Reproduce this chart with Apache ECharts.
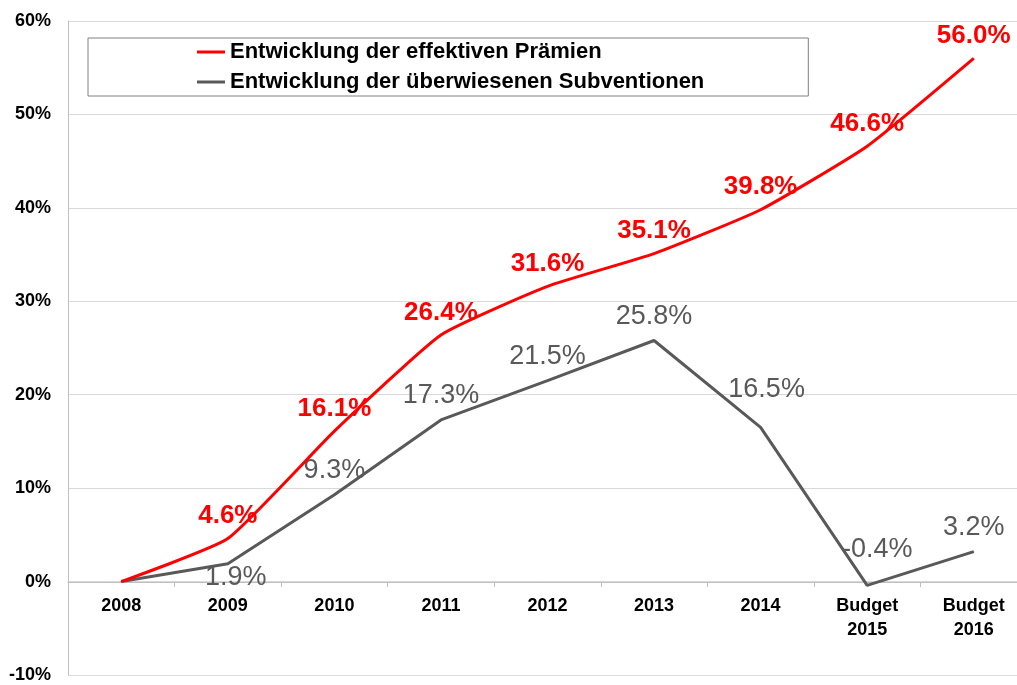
<!DOCTYPE html>
<html>
<head>
<meta charset="utf-8">
<script src="https://cdn.jsdelivr.net/npm/echarts@6/dist/echarts.min.js"></script>
<style>
    html, body {margin: 0; padding: 0; background: #fff;}
    #chart {width: 1017px; height: 685px;}
</style>
</head>
<body>
<div id="chart"></div>
<script>
// data
const categories = ['2008', '2009', '2010', '2011', '2012', '2013', '2014', 'Budget\n2015', 'Budget\n2016'];
const praemien = [0, 4.6, 16.1, 26.4, 31.6, 35.1, 39.8, 46.6, 56.0];
const subventionen = [0, 1.9, 9.3, 17.3, 21.5, 25.8, 16.5, -0.4, 3.2];
const seriesNames = ['Entwicklung der effektiven Prämien', 'Entwicklung der überwiesenen Subventionen'];

const fontFamily = '"Liberation Sans", Arial, sans-serif';
const red = '#ff0000';
const grey = '#595959';

const pct = p => p.value.toFixed(1) + '%';

// label tweaks for a few grey points
const greyData = subventionen.map((v, i) => {
    if (i === 0) return {value: v, label: {show: false}};
    if (i === 1) return {value: v, label: {position: 'bottom', distance: -2, offset: [8, 2]}};
    if (i === 6) return {value: v, label: {offset: [6, -14]}};
    if (i === 7) return {value: v, label: {offset: [10, -12]}};
    return v;
});
const redData = praemien.map((v, i) => i === 0 ? {value: v, label: {show: false}} : v);

const chart = echarts.init(document.getElementById('chart'));
chart.setOption({
    animation: false,
    backgroundColor: '#fff',
    grid: {left: 68, top: 21, bottom: 10, width: 959, outerBoundsMode: 'none', containLabel: false},
    legend: {
        orient: 'vertical',
        left: 88,
        top: 38,
        padding: [3, 104, 3, 109],
        itemGap: 8,
        itemWidth: 28,
        itemHeight: 3,
        borderColor: '#808080',
        borderWidth: 1,
        backgroundColor: '#fff',
        textStyle: {fontFamily, fontSize: 22, fontWeight: 'bold', color: '#000'},
        data: [
            {name: seriesNames[0], icon: 'rect'},
            {name: seriesNames[1], icon: 'rect'},
        ],
    },
    xAxis: {
        type: 'category',
        data: categories,
        // axis drawn at the 0% line
        offset: -93,
        axisLine: {onZero: false, lineStyle: {color: '#bfbfbf'}},
        axisTick: {show: true, length: 5, lineStyle: {color: '#bfbfbf'}},
        axisLabel: {
            fontFamily, fontSize: 18, fontWeight: 'bold', color: '#000',
            margin: 12, lineHeight: 24, interval: 0,
        },
    },
    yAxis: {
        type: 'value',
        min: -10,
        max: 60,
        interval: 10,
        axisLine: {show: true, lineStyle: {color: '#bfbfbf'}},
        axisTick: {show: false},
        splitLine: {lineStyle: {color: '#d9d9d9'}},
        axisLabel: {
            fontFamily, fontSize: 18, fontWeight: 'bold', color: '#000',
            margin: 17, formatter: '{value}%',
        },
    },
    series: [
        {
            name: seriesNames[1],
            type: 'line',
            data: greyData,
            color: grey,
            symbol: 'circle',
            symbolSize: 1,
            lineStyle: {width: 3, color: grey},
            label: {
                show: true, position: 'top', distance: 10,
                fontFamily, fontSize: 27, color: grey, formatter: pct,
            },
            z: 2,
        },
        {
            name: seriesNames[0],
            type: 'line',
            data: redData,
            color: red,
            smooth: 0.15,
            symbol: 'circle',
            symbolSize: 1,
            lineStyle: {width: 3, color: red},
            label: {
                show: true, position: 'top', distance: 9,
                fontFamily, fontSize: 26, fontWeight: 'bold', color: red, formatter: pct,
            },
            z: 3,
        },
    ],
});
</script>
</body>
</html>
